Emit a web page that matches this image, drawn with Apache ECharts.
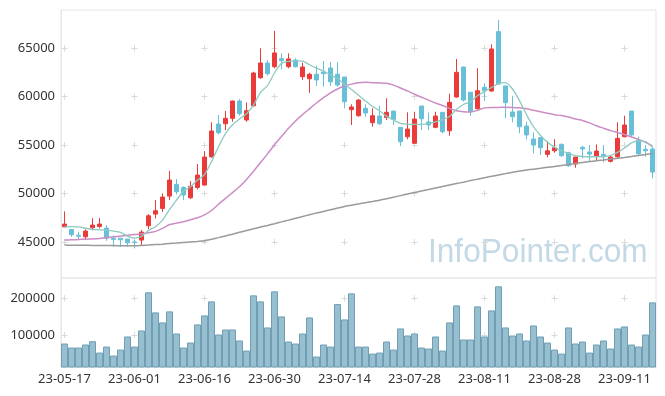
<!DOCTYPE html>
<html>
<head>
<meta charset="utf-8">
<script src="https://cdn.jsdelivr.net/npm/echarts@6/dist/echarts.min.js"></script>
<style>html,body{margin:0;padding:0;background:#fff}#c{width:665px;height:396px}</style>
</head>
<body>
<div id="c"></div>
<script>
const dates = ['23-05-17','23-05-18','23-05-19','23-05-22','23-05-23','23-05-24','23-05-25','23-05-26','23-05-30','23-05-31',
'23-06-01','23-06-02','23-06-05','23-06-07','23-06-08','23-06-09','23-06-12','23-06-13','23-06-14','23-06-15',
'23-06-16','23-06-19','23-06-20','23-06-21','23-06-22','23-06-23','23-06-26','23-06-27','23-06-28','23-06-29',
'23-06-30','23-07-03','23-07-04','23-07-05','23-07-06','23-07-07','23-07-10','23-07-11','23-07-12','23-07-13',
'23-07-14','23-07-17','23-07-18','23-07-19','23-07-20','23-07-21','23-07-24','23-07-25','23-07-26','23-07-27',
'23-07-28','23-07-31','23-08-01','23-08-02','23-08-03','23-08-04','23-08-07','23-08-08','23-08-09','23-08-10',
'23-08-11','23-08-14','23-08-16','23-08-17','23-08-18','23-08-21','23-08-22','23-08-23','23-08-24','23-08-25',
'23-08-28','23-08-29','23-08-30','23-08-31','23-09-01','23-09-04','23-09-05','23-09-06','23-09-07','23-09-08',
'23-09-11','23-09-12','23-09-13','23-09-14','23-09-15'];

const opens = [46570,46300,45700,45540,46470,46610,46440,45400,45400,45300,
45000,45200,46680,47880,48470,49740,50950,50640,49570,50640,
50880,53800,57180,57210,57770,59560,57600,59070,61960,63480,
63100,63930,63100,63790,62070,61860,62320,62550,62970,62320,
62040,58660,58040,58800,57320,58010,57870,58520,56840,55870,
55190,59040,57390,56840,58390,56490,59970,63070,60460,58760,
60970,60590,66720,61110,58420,58520,56970,55630,55770,54050,
54420,55080,54220,53050,54780,54290,53880,54050,53330,53800,
55870,58520,55530,54570,54600];
const closes = [46850,45750,45600,46130,46750,46850,45400,45270,45230,44920,
44960,46020,47710,48230,49640,51400,50190,49850,50750,51910,
53770,56460,56280,57770,59560,58250,58560,62450,63480,62380,
64520,63720,63900,63100,63070,62320,61730,62380,61550,61210,
59490,58940,59660,58320,58040,57210,58390,57670,55350,56660,
57700,57730,57080,58010,56390,59420,62520,59660,58450,60620,
60620,64930,61310,59390,57940,56900,56050,55010,54730,54420,
54730,53910,52870,53770,54600,54080,54390,53800,53770,55700,
57080,56050,54110,54420,52220];
const lows = [46540,45540,45330,45270,46200,46410,45120,44500,44500,44500,
44340,44650,46330,47440,48120,49330,49920,49330,49430,50430,
50810,53700,56120,56560,57420,58040,57420,58970,61830,62170,
62940,62830,62940,63040,61730,60410,61110,61030,61110,61030,
58800,57080,57940,57940,56900,57080,57590,57080,54910,55600,
55190,56560,56560,56740,56220,55970,59900,59500,58000,58700,
59560,60520,61210,57770,57360,56220,55600,54150,53980,53740,
54220,53800,52770,52670,53640,53290,53390,53220,53220,53640,
55810,55870,53980,53800,51570];
const highs = [48160,46350,46060,46300,47470,47470,46750,45680,45420,45320,
45230,46230,47880,49330,50020,52330,51500,50750,51290,53050,
54390,57360,58110,58530,59600,59760,59420,62580,65000,63790,
66790,64480,64480,63970,63510,62480,63200,63690,63590,63560,
62040,59220,59760,59220,58800,59070,59840,58520,56840,58390,
58450,59040,58350,58450,58390,60310,63900,63100,60460,62940,
61390,65410,67920,61110,60100,58520,57420,56320,55770,55430,
55600,55190,54320,53770,54940,55010,55080,55010,53880,57360,
58040,58520,55870,55010,54840];
const volumes = [77400,66500,66500,74650,83650,52850,69200,44700,61000,96500,
69200,112800,216400,161900,134600,164600,104600,66500,80100,129200,
153700,191800,101900,115500,115500,85600,58300,208200,191800,121000,
219100,151000,82800,77400,104600,148200,42000,74650,69200,184500,
142800,213600,69200,69200,50100,52850,82800,61000,118300,99200,
104600,66500,63800,96500,58300,134600,180900,88300,88300,178200,
96500,167300,232700,121000,99200,104600,85600,126400,96500,80100,
61000,50100,121000,77400,82800,52850,74650,85600,63800,118300,
123700,74650,69200,101900,189100];
const ma5 = [46550,46580,46570,46420,46300,46260,46230,46120,46000,45610,
45400,45580,46200,46570,47260,48350,49330,50250,50700,51400,
51950,53300,54850,56200,57100,57700,58250,59140,60450,61150,
62450,63450,63650,63700,63680,63300,62950,62650,62250,61880,
61300,60750,60150,59550,59000,58560,58000,57600,57250,57170,
57150,57150,57200,57400,57600,57950,58700,59200,59500,60100,
60550,60950,61350,61450,60800,59600,58150,56900,56000,55300,
54800,54400,54150,53906,53830,53800,53800,53830,53930,54250,
54700,55240,55440,55380,54800];
const ma20 = [45200,45230,45260,45290,45320,45370,45450,45530,45610,45700,
45780,45850,45950,46100,46400,46800,46950,47100,47300,47500,
47800,48250,48900,49500,50100,50700,51450,52300,53200,54100,
55050,55900,56750,57500,58150,58750,59350,59900,60400,60800,
61100,61300,61450,61500,61450,61420,61380,61200,60900,60600,
60250,59950,59650,59350,59100,58800,58550,58450,58430,58600,
58850,58900,58900,58920,58900,58850,58750,58600,58450,58300,
58150,58050,57900,57700,57550,57300,57000,56750,56500,56300,
56100,55850,55600,55300,54900];
const ma60 = [44680,44670,44660,44655,44650,44650,44640,44630,44620,44615,
44610,44640,44680,44730,44780,44840,44890,44950,45010,45060,
45120,45280,45450,45630,45810,46000,46180,46360,46540,46710,
46890,47080,47260,47450,47630,47820,47990,48160,48330,48500,
48670,48800,48930,49060,49180,49310,49470,49630,49790,49950,
50100,50260,50410,50570,50720,50880,51030,51180,51340,51490,
51640,51780,51920,52060,52200,52335,52430,52520,52610,52710,
52800,52900,53000,53100,53200,53300,53390,53470,53560,53640,
53730,53830,53940,54040,54150];
const priceTicks = [45000, 50000, 55000, 60000, 65000];
const volumeTicks = [100000, 200000];

const candleData = opens.map((o, i) => [o, closes[i], lows[i], highs[i]]);

const chart = echarts.init(document.getElementById('c'), null, {renderer: 'canvas'});
const font = 'Noto Sans';
const crossColor = '#d9d9d9';
chart.setOption({
  animation: false,
  backgroundColor: '#fff',
  graphic: [{
    type: 'text', left: 428, top: 236, z: 0, silent: true,
    scaleX: 0.93,
    style: {text: 'InfoPointer.com', font: '34px "Liberation Sans"', fill: '#c3d9e5'}
  }],
  grid: [
    {left: 61, right: 9, top: 10, height: 268, show: true, borderColor: '#e6e6e6', borderWidth: 1},
    {left: 61, right: 9, top: 278, height: 89, show: true, borderColor: '#e6e6e6', borderWidth: 1}
  ],
  xAxis: [
    {type: 'category', gridIndex: 0, data: dates, boundaryGap: true,
     axisLine: {show: false}, axisTick: {show: false}, axisLabel: {show: false},
     splitLine: {show: true, interval: 9, alignWithLabel: true,
       lineStyle: {color: crossColor, width: 1, type: [6, 42.4], dashOffset: 13.1}}},
    {type: 'category', gridIndex: 1, data: dates, boundaryGap: true,
     axisLine: {show: true, lineStyle: {color: '#e6e6e6'}}, axisTick: {show: false},
     axisLabel: {interval: 9, fontSize: 13, color: '#333', fontFamily: font, margin: 6},
     splitLine: {show: true, interval: 9, alignWithLabel: true,
       lineStyle: {color: crossColor, width: 1, type: [6, 30.7], dashOffset: 19.4}}}
  ],
  yAxis: [
    {type: 'value', gridIndex: 0, min: 41283, max: 68955, scale: true,
     axisLine: {show: true, lineStyle: {color: '#e6e6e6'}},
     axisTick: {show: false, customValues: priceTicks},
     axisLabel: {customValues: priceTicks, fontSize: 13, color: '#333', fontFamily: font, margin: 6,
       formatter: v => String(v)},
     splitLine: {show: true, lineStyle: {color: crossColor, width: 1, type: [6, 64], dashOffset: 69.5}}},
    {type: 'value', gridIndex: 1, min: 13620, max: 255300,
     axisLine: {show: true, lineStyle: {color: '#e6e6e6'}},
     axisTick: {show: false, customValues: volumeTicks},
     axisLabel: {customValues: volumeTicks, fontSize: 13, color: '#333', fontFamily: font, margin: 6,
       formatter: v => String(v)},
     splitLine: {show: true, lineStyle: {color: crossColor, width: 1, type: [6, 64], dashOffset: 69.5}}}
  ],
  series: [
    {type: 'candlestick', xAxisIndex: 0, yAxisIndex: 0, data: candleData, barWidth: 5,
     itemStyle: {color: '#ea3b3b', color0: '#68bfd8', borderColor: '#ea3b3b', borderColor0: '#68bfd8', borderWidth: 1}},
    {type: 'line', xAxisIndex: 0, yAxisIndex: 0, data: ma60, symbol: 'none', smooth: 0.2,
     lineStyle: {color: '#9a9a9a', width: 1.5}},
    {type: 'line', xAxisIndex: 0, yAxisIndex: 0, data: ma20, symbol: 'none', smooth: 0.2,
     lineStyle: {color: '#cc8cc4', width: 1.5}},
    {type: 'line', xAxisIndex: 0, yAxisIndex: 0, data: ma5, symbol: 'none', smooth: 0.2,
     lineStyle: {color: '#8ccbc2', width: 1.3}},
    {type: 'bar', xAxisIndex: 1, yAxisIndex: 1, data: volumes, barWidth: '100%',
     itemStyle: {color: '#98bfd0', borderColor: '#6f9fb5', borderWidth: 1}}
  ]
});
</script>
</body>
</html>
